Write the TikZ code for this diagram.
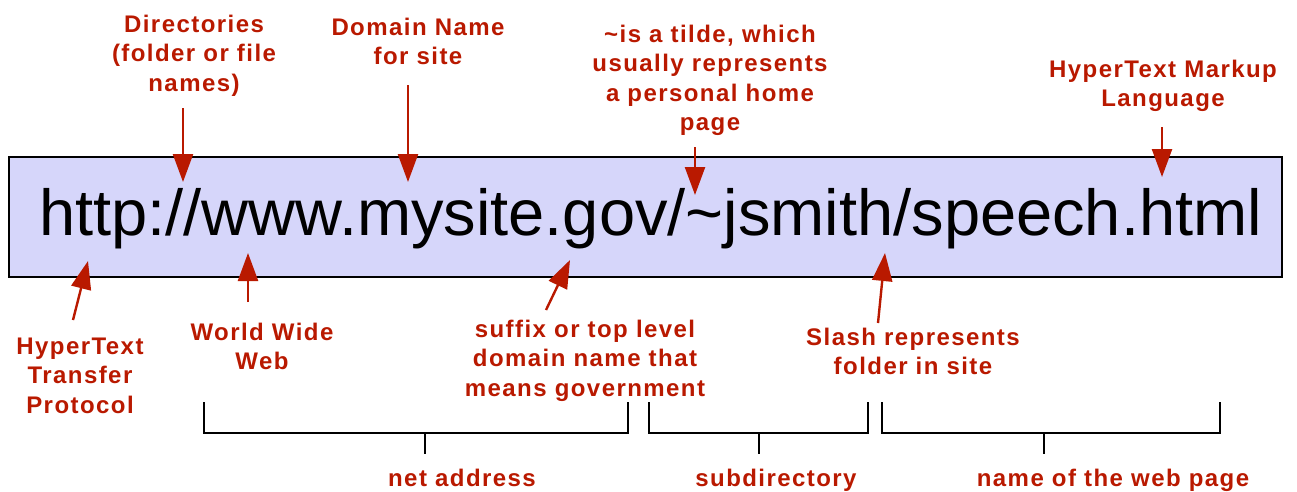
\documentclass[tikz,border=0pt]{standalone}
\usepackage{fontspec}
\setmainfont{Liberation Sans}
\newfontfamily\lblface[LetterSpace=6]{Liberation Sans Bold}
\usetikzlibrary{arrows.meta}
\definecolor{lblred}{RGB}{185,25,0}
\definecolor{boxfill}{RGB}{214,214,250}
\tikzset{
  lbl/.style={text=lblred, font=\lblface\fontsize{24}{29.5}\selectfont, align=center, inner sep=0pt, anchor=north, yshift=20.65pt},
  arr/.style={draw=lblred, line width=2.4pt, -{Triangle[width=20pt,length=28pt]}},
  brace/.style={draw=black, line width=2pt},
  urlbox/.style={draw=black, line width=2.6pt, fill=boxfill, inner sep=0pt, minimum width=1273pt, minimum height=120pt},
  urltext/.style={font=\fontsize{65}{70}\selectfont, inner sep=0pt, anchor=base west}
}
\begin{document}
\begin{tikzpicture}[x=1pt,y=-1pt]
\useasboundingbox (0,0) rectangle (1297,491);
% URL box
\node[urlbox] (box) at (645.5,217) {};
\node[urltext] (url) at (39,235) {http://www.mysite.gov/\char`\~jsmith/speech.html};
% top labels
\node[lbl] (dir) at (194,32) {\strut Directories\\(folder or file\\names)};
\node[lbl] (dom) at (418,35) {\strut Domain Name\\for site};
\node[lbl] (til) at (710,42) {\strut \char`\~is a tilde, which\\usually represents\\a personal home\\page};
\node[lbl] (htm) at (1163,77) {\strut HyperText Markup\\Language};
% bottom labels
\node[lbl] (htp) at (80,354) {\strut HyperText\\Transfer\\Protocol};
\node[lbl] (www) at (262,340) {\strut World Wide\\Web};
\node[lbl] (suf) at (585,337) {\strut suffix or top level\\domain name that\\means government};
\node[lbl] (sla) at (913,345) {\strut Slash represents\\folder in site};
\node[lbl] (net) at (462,486) {\strut net address};
\node[lbl] (sub) at (776,486) {\strut subdirectory};
\node[lbl] (nam) at (1113,486) {\strut name of the web page};
% arrow ends
\coordinate (dirS) at (183,108); \coordinate (dirE) at (183,182);
\coordinate (domS) at (408,85);  \coordinate (domE) at (408,182);
\coordinate (tilS) at (695,147); \coordinate (tilE) at (695,195);
\coordinate (htmS) at (1162,127); \coordinate (htmE) at (1162,177);
\coordinate (htpS) at (73,320);  \coordinate (htpE) at (88,261);
\coordinate (wwwS) at (248,302); \coordinate (wwwE) at (248,253);
\coordinate (sufS) at (546,310); \coordinate (sufE) at (570,260);
\coordinate (slaS) at (878,323); \coordinate (slaE) at (885,253);
\draw[arr] (dirS) -- (dirE);
\draw[arr] (domS) -- (domE);
\draw[arr] (tilS) -- (tilE);
\draw[arr] (htmS) -- (htmE);
\draw[arr] (htpS) -- (htpE);
\draw[arr] (wwwS) -- (wwwE);
\draw[arr] (sufS) -- (sufE);
\draw[arr] (slaS) -- (slaE);
% braces
\coordinate (b1l) at (204,402); \coordinate (b1r) at (628,402); \coordinate (b1m) at (425,433); \coordinate (b1t) at (425,454);
\coordinate (b2l) at (649,402); \coordinate (b2r) at (868,402); \coordinate (b2m) at (759,433); \coordinate (b2t) at (759,454);
\coordinate (b3l) at (882,402); \coordinate (b3r) at (1220,402); \coordinate (b3m) at (1044,433); \coordinate (b3t) at (1044,454);
\draw[brace] (b1l) |- (b1m) -| (b1r); \draw[brace] (b1m) -- (b1t);
\draw[brace] (b2l) |- (b2m) -| (b2r); \draw[brace] (b2m) -- (b2t);
\draw[brace] (b3l) |- (b3m) -| (b3r); \draw[brace] (b3m) -- (b3t);
\end{tikzpicture}
\end{document}
